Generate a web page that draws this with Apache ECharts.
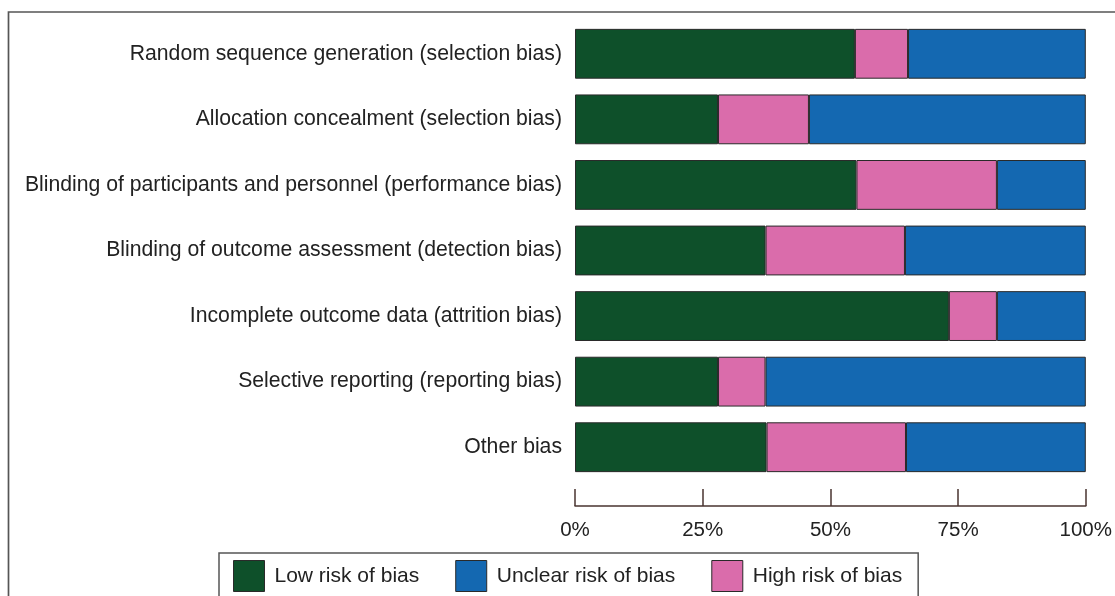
<!DOCTYPE html>
<html><head><meta charset="utf-8">
<script src="https://cdn.jsdelivr.net/npm/echarts@6/dist/echarts.min.js"></script>
<style>html,body{margin:0;padding:0;background:#fff}#c{width:1115px;height:596px}</style>
</head><body><div id="c"></div>
<script>
const categories = [
  'Random sequence generation (selection bias)',
  'Allocation concealment (selection bias)',
  'Blinding of participants and personnel (performance bias)',
  'Blinding of outcome assessment (detection bias)',
  'Incomplete outcome data (attrition bias)',
  'Selective reporting (reporting bias)',
  'Other bias'
];
const lowRisk     = [54.8, 28.0, 55.1, 37.3, 73.2, 28.0, 37.5];
const highRisk    = [10.4, 17.8, 27.5, 27.3, 9.4, 9.3, 27.3];
const unclearRisk = [34.8, 54.2, 17.4, 35.4, 17.4, 62.7, 35.2];
const tickValues = [0, 25, 50, 75, 100];

const font = 'Liberation Sans, Arial, Helvetica, sans-serif';
const chart = echarts.init(document.getElementById('c'), null, {renderer: 'canvas'});
const border = {borderColor: '#2a2a2a', borderWidth: 1};
chart.setOption({
  animation: false,
  textStyle: {fontFamily: font},
  graphic: [{
    type: 'rect', silent: true, z: -1,
    shape: {x: 8.5, y: 12, width: 1120, height: 600},
    style: {fill: 'none', stroke: '#555', lineWidth: 1.7}
  }],
  grid: {left: 575, right: 29, top: 21, bottom: 116, containLabel: false},
  xAxis: {
    type: 'value', min: tickValues[0], max: tickValues[tickValues.length - 1], interval: 25,
    position: 'bottom', offset: 26,
    axisLine: {show: true, lineStyle: {color: '#4a3530', width: 1.5}},
    axisTick: {show: true, inside: true, length: 17, lineStyle: {color: '#4a3530', width: 1.5}},
    splitLine: {show: false},
    axisLabel: {formatter: '{value}%', fontSize: 20.5, color: '#222', margin: 14, fontFamily: font}
  },
  yAxis: {
    type: 'category', data: categories, inverse: true,
    axisLine: {show: false}, axisTick: {show: false},
    axisLabel: {fontSize: 21.2, color: '#222', margin: 13, fontFamily: font}
  },
  legend: {
    left: 219, top: 553, orient: 'horizontal',
    data: ['Low risk of bias', 'Unclear risk of bias', 'High risk of bias'],
    itemWidth: 31, itemHeight: 31, itemGap: 36,
    borderColor: '#555', borderWidth: 1.5, padding: [7, 16, 10, 14],
    icon: 'rect',
    itemStyle: {borderColor: '#2a2a2a', borderWidth: 1},
    textStyle: {fontSize: 21, color: '#222', fontFamily: font, padding: [0, 0, 0, 5]}
  },
  series: [
    {name: 'Low risk of bias', type: 'bar', stack: 'r', data: lowRisk, barCategoryGap: '24%',
     itemStyle: Object.assign({color: '#0e502a'}, border)},
    {name: 'High risk of bias', type: 'bar', stack: 'r', data: highRisk,
     itemStyle: Object.assign({color: '#da6cab'}, border)},
    {name: 'Unclear risk of bias', type: 'bar', stack: 'r', data: unclearRisk,
     itemStyle: Object.assign({color: '#1468b1'}, border)}
  ]
});
</script></body></html>
